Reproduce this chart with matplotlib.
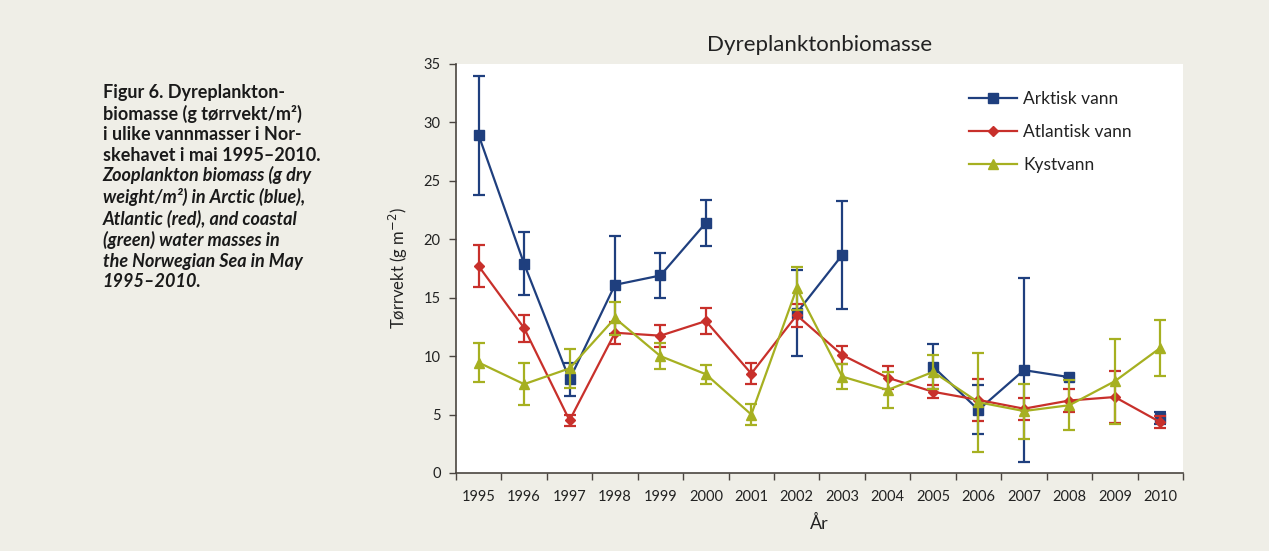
import matplotlib.pyplot as plt
import numpy as np

years = [str(y) for y in range(1995, 2011)]

# Arktisk vann (None = no data)
arktisk = [28.9, 17.9, 8.0, 16.1, 16.9, 21.4, None, 13.7, 18.65, None, 9.1, 5.4, 8.8, 8.2, None, 4.7]
arktisk_err = [5.1, 2.7, 1.4, 4.2, 1.9, 2.0, None, 3.7, 4.6, None, 1.9, 2.1, 7.9, 0.0, None, 0.5]

atlantisk = [17.7, 12.4, 4.5, 12.0, 11.75, 13.0, 8.5, 13.5, 10.1, 8.15, 6.95, 6.25, 5.5, 6.2, 6.5, 4.35]
atlantisk_err = [1.8, 1.15, 0.5, 0.95, 0.95, 1.1, 0.9, 1.0, 0.8, 1.0, 0.55, 1.8, 0.95, 1.0, 2.2, 0.5]

kystvann = [9.45, 7.6, 8.95, 13.25, 10.0, 8.45, 5.0, 15.8, 8.25, 7.1, 8.65, 6.05, 5.3, 5.8, 7.85, 10.7]
kystvann_err = [1.65, 1.8, 1.7, 1.4, 1.1, 0.8, 0.9, 1.85, 1.05, 1.55, 1.45, 4.25, 2.35, 2.15, 3.65, 2.4]

BG = "#efeee7"
BLUE = "#1f3f7e"
RED = "#c8302b"
GREEN = "#a6b021"
AXC = "#4a4540"

plt.rcParams["font.family"] = ["Lato", "DejaVu Sans"]


def to_arr(vals):
    return np.array([np.nan if v is None else v for v in vals], dtype=float)


fig = plt.figure(figsize=(12.69, 5.51), dpi=100, facecolor=BG)
ax = fig.add_axes([0.3593, 0.1416, 0.5729, 0.7423])
ax.set_facecolor("white")

x = np.arange(len(years))

series = [
    ("Arktisk vann", arktisk, arktisk_err, BLUE, "s", 7.5),
    ("Atlantisk vann", atlantisk, atlantisk_err, RED, "D", 5.5),
    ("Kystvann", kystvann, kystvann_err, GREEN, "^", 7.5),
]

handles = []
for name, vals, errs, col, mk, ms in series:
    y = to_arr(vals)
    e = to_arr(errs)
    ax.errorbar(x, y, yerr=e, fmt="none", ecolor=col, elinewidth=1.6,
                capsize=4, capthick=1.6)
    h, = ax.plot(x, y, color=col, lw=1.6, marker=mk, ms=ms, mfc=col, mec=col,
                 label=name)
    handles.append(h)

ax.set_xlim(-0.5, len(years) - 0.5)
ax.set_ylim(0, 35)
ax.set_yticks(range(0, 36, 5))
ax.set_xticks(x)
ax.set_xticklabels(years)
ax.set_xticks(np.arange(-0.5, len(years), 1), minor=True)
ax.tick_params(axis="x", which="major", length=0, pad=12, labelsize=10.5, colors="#222222")
ax.tick_params(axis="x", which="minor", length=5, width=1, color=AXC, direction="out")
ax.tick_params(axis="y", length=5, width=1, color=AXC, labelsize=10.5, labelcolor="#222222", pad=6)

for s in ["top", "right"]:
    ax.spines[s].set_visible(False)
for s in ["left", "bottom"]:
    ax.spines[s].set_color(AXC)
    ax.spines[s].set_linewidth(1.2)

ax.set_title("Dyreplanktonbiomasse", fontsize=16, color="#222222", pad=9)
ax.set_xlabel("År", fontsize=13, color="#222222", labelpad=8)
ax.set_ylabel("Tørrvekt (g m$^{-2}$)", fontsize=12, color="#222222", labelpad=10)

leg = ax.legend(handles=handles, loc="upper left", bbox_to_anchor=(0.706, 0.933),
                frameon=False, fontsize=12.5, handlelength=2.75, labelspacing=0.97,
                handletextpad=0.35, borderpad=0, borderaxespad=0)
for t in leg.get_texts():
    t.set_color("#222222")

# caption on the left
fig.text(0.081, 0.848,
         "Figur 6. Dyreplankton-\nbiomasse (g tørrvekt/m²)\ni ulike vannmasser i Nor-\nskehavet i mai 1995–2010.",
         fontsize=13, fontweight="bold", va="top", ha="left", color="#1a1a1a",
         linespacing=1.25)
fig.text(0.081, 0.699,
         "Zooplankton biomass (g dry\nweight/m²) in Arctic (blue),\nAtlantic (red), and coastal\n(green) water masses in\nthe Norwegian Sea in May\n1995–2010.",
         fontsize=13, fontweight="bold", style="italic", va="top", ha="left",
         color="#1a1a1a", linespacing=1.25)

fig.savefig("out.png", dpi=100, facecolor=BG)
